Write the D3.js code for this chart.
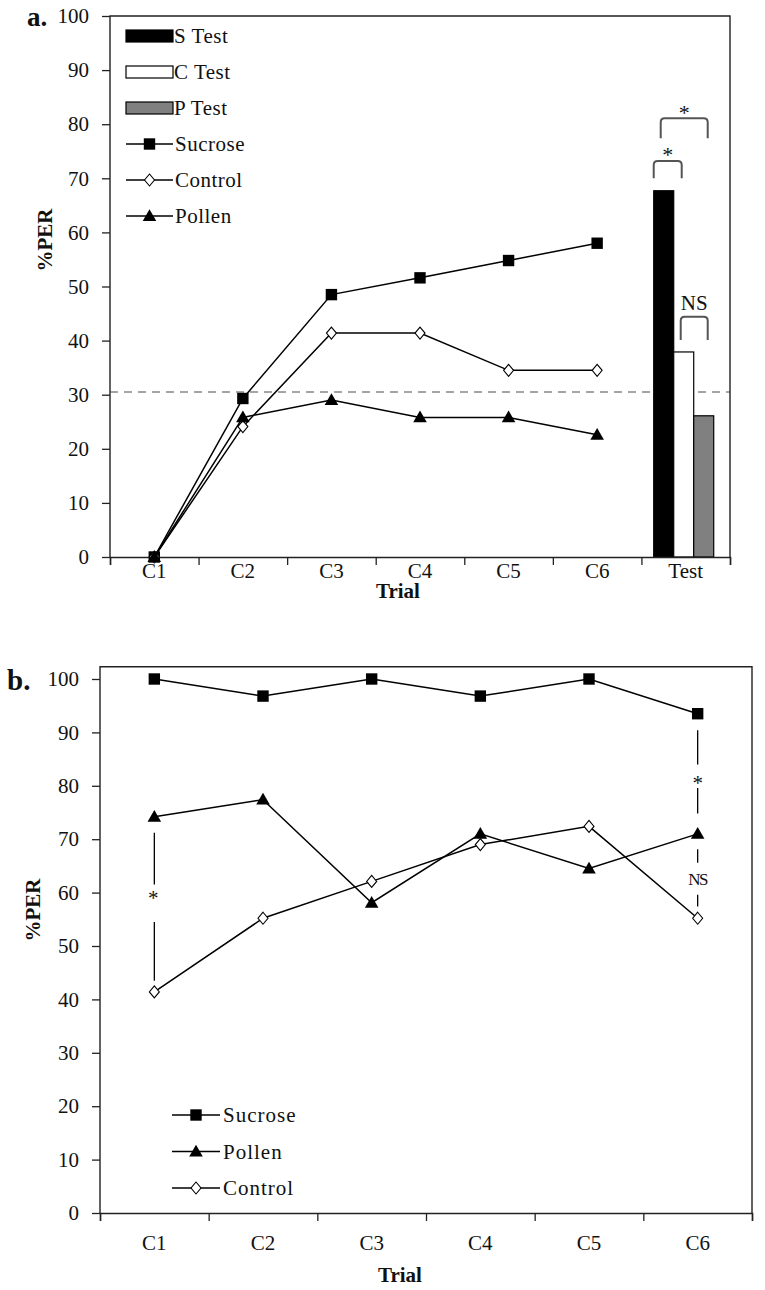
<!DOCTYPE html>
<html>
<head>
<meta charset="utf-8">
<script src="https://cdn.jsdelivr.net/npm/d3@7"></script>
<style>
  html, body { margin: 0; padding: 0; background: #fff; }
  svg { display: block; }
  text { font-family: "Liberation Serif", "Times New Roman", serif; fill: #111; }
</style>
</head>
<body>
<svg id="chart" width="765" height="1290"></svg>
<script>
// ---------- DATA ----------
const trialsA = ["C1", "C2", "C3", "C4", "C5", "C6", "Test"];
const trials = ["C1", "C2", "C3", "C4", "C5", "C6"];
const yTicks = [0, 10, 20, 30, 40, 50, 60, 70, 80, 90, 100];

// Panel a: conditioning curves
const sucroseA = [0, 29.3, 48.5, 51.6, 54.8, 58.0];
const controlA = [0, 24.1, 41.4, 41.4, 34.5, 34.5];
const pollenA  = [0, 25.8, 29.0, 25.8, 25.8, 22.6];
// Panel a: test bars
const testLabels = ["S Test", "C Test", "P Test"];
const testValues = [67.7, 37.9, 26.1];
const baselineA = 30.5;

// Panel b
const sucroseB = [100, 96.8, 100, 96.8, 100, 93.5];
const pollenB  = [74.2, 77.4, 58.1, 71.0, 64.5, 71.0];
const controlB = [41.4, 55.2, 62.1, 69.0, 72.4, 55.2];

const svg = d3.select("#chart");
const serif = '"Liberation Serif", "Times New Roman", serif';
const FS = 21;

// ---------- marker helpers ----------
function marker(g, type, x, y) {
  if (type === "square") {
    g.append("path").attr("d", d3.symbol(d3.symbolSquare, 130)())
      .attr("transform", `translate(${x},${y})`).attr("fill", "#000");
  } else if (type === "triangle") {
    g.append("path").attr("d", d3.symbol(d3.symbolTriangle, 80)())
      .attr("transform", `translate(${x},${y + 1})`).attr("fill", "#000");
  } else {
    g.append("path").attr("d", "M0,-6L5,0L0,6L-5,0Z")
      .attr("transform", `translate(${x},${y})`)
      .attr("fill", "#fff").attr("stroke", "#000").attr("stroke-width", 1.1);
  }
}

function series(g, x, y, cats, vals, type) {
  const line = d3.line().x((d, i) => x(cats[i]) + x.bandwidth() / 2).y(d => y(d));
  g.append("path").datum(vals).attr("d", line)
    .attr("fill", "none").attr("stroke", "#000").attr("stroke-width", 1.5);
  vals.forEach((v, i) => marker(g, type, x(cats[i]) + x.bandwidth() / 2, y(v)));
}

function drawAxes(g, x, y, cats, yTop, xl, xr, y0, tickPad) {
  const ya = g.append("g").attr("transform", `translate(${xl},0)`)
    .call(d3.axisLeft(y).tickValues(yTicks).tickSize(8).tickPadding(13).tickFormat(d3.format("d")));
  ya.select(".domain").remove();
  ya.selectAll("line").attr("stroke", "#222").attr("stroke-width", 1.3);
  ya.selectAll("text").attr("font-family", serif).attr("font-size", FS).attr("fill", "#222");
  g.append("path").attr("d", `M${xl},${y0}V${yTop}H${xr}V${y0}`)
    .attr("fill", "none").attr("stroke", "#222").attr("stroke-width", 1.4);
  const xb = d3.scaleLinear().domain([0, cats.length]).range([xl, xr]);
  const xa = g.append("g").attr("transform", `translate(0,${y0})`)
    .call(d3.axisBottom(xb).tickValues(d3.range(cats.length + 1)).tickSize(8).tickFormat(""));
  xa.select(".domain").attr("stroke", "#222").attr("stroke-width", 1.5);
  xa.selectAll("line").attr("stroke", "#222").attr("stroke-width", 1.3);
  const xlab = g.append("g").attr("transform", `translate(0,${y0})`)
    .call(d3.axisBottom(x).tickSize(0).tickPadding(tickPad));
  xlab.select(".domain").remove();
  xlab.selectAll("text").attr("font-family", serif).attr("font-size", FS).attr("fill", "#222");
}

// ================= PANEL A =================
(function () {
  const g = svg.append("g");
  const xl = 110, xr = 730, yT = 16, y0 = 557;
  const x = d3.scaleBand().domain(trialsA).range([xl, xr]).padding(0);
  const y = d3.scaleLinear().domain([0, 100]).range([y0, yT]);

  g.append("line").attr("x1", xl).attr("x2", xr).attr("y1", y(baselineA)).attr("y2", y(baselineA))
    .attr("stroke", "#888").attr("stroke-width", 1.3).attr("stroke-dasharray", "8,6");

  const bw = 20;
  const groupW = bw * testLabels.length;
  const gx = x("Test") + x.bandwidth() / 2 - groupW / 2 - 2;
  const xs = d3.scaleLinear().domain([0, testLabels.length]).range([gx, gx + groupW]);
  const fills = ["#000", "#fff", "#808080"];
  testValues.forEach((v, i) => {
    g.append("rect").attr("x", xs(i)).attr("y", y(v)).attr("width", bw).attr("height", y(0) - y(v))
      .attr("fill", fills[i]).attr("stroke", "#000").attr("stroke-width", 1.2);
  });

  const brackets = [
    { a: 0, b: 1.4, top: 73.2, leg: 70.0, label: "*", ly: 75.2 },
    { a: 0.35, b: 2.7, top: 81.1, leg: 77.4, label: "*", ly: 83.1 },
    { a: 1.35, b: 2.7, top: 44.4, leg: 40.1, label: "NS", ly: 45.6 }
  ];
  brackets.forEach(br => {
    const x1 = xs(br.a), x2 = xs(br.b), yt = y(br.top), yl = y(br.leg), r = 4;
    g.append("path")
      .attr("d", `M${x1},${yl}V${yt + r}Q${x1},${yt} ${x1 + r},${yt}H${x2 - r}Q${x2},${yt} ${x2},${yt + r}V${yl}`)
      .attr("fill", "none").attr("stroke", "#555").attr("stroke-width", 2);
    g.append("text").attr("x", (x1 + x2) / 2).attr("y", y(br.ly))
      .attr("text-anchor", "middle").attr("font-size", br.label === "NS" ? 21 : 22)
      .attr("dy", br.label === "NS" ? "0em" : "0.55em")
      .text(br.label);
  });

  drawAxes(g, x, y, trialsA, yT, xl, xr, y0, 6);

  series(g, x, y, trials, sucroseA, "square");
  series(g, x, y, trials, controlA, "diamond");
  series(g, x, y, trials, pollenA, "triangle");

  const leg = g.append("g");
  const lx0 = 126, lx1 = 173, rowH = 36, ly0 = 36;
  testLabels.forEach((t, i) => {
    const yy = ly0 + i * rowH;
    leg.append("rect").attr("x", lx0).attr("y", yy - 6).attr("width", lx1 - lx0).attr("height", 12)
      .attr("fill", fills[i]).attr("stroke", "#000").attr("stroke-width", 1.2);
    leg.append("text").attr("x", lx1 + 1).attr("y", yy).attr("dy", "0.35em").attr("font-size", FS)
      .attr("letter-spacing", "0.5").text(t);
  });
  const lineLeg = [["Sucrose", "square"], ["Control", "diamond"], ["Pollen", "triangle"]];
  lineLeg.forEach((d, i) => {
    const yy = ly0 + (i + 3) * rowH;
    leg.append("line").attr("x1", lx0).attr("x2", lx1).attr("y1", yy).attr("y2", yy)
      .attr("stroke", "#000").attr("stroke-width", 1.4);
    marker(leg, d[1], (lx0 + lx1) / 2, yy);
    leg.append("text").attr("x", lx1 + 2).attr("y", yy).attr("dy", "0.35em").attr("font-size", FS)
      .attr("letter-spacing", "0.5").text(d[0]);
  });

  g.append("text").attr("x", 27).attr("y", 26).attr("font-size", 27).attr("font-weight", "bold").text("a.");
  g.append("text").attr("transform", "translate(52,240) rotate(-90)").attr("text-anchor", "middle")
    .attr("font-size", 21).attr("font-weight", "bold").text("%PER");
  g.append("text").attr("x", 398).attr("y", 598).attr("text-anchor", "middle")
    .attr("font-size", 21).attr("font-weight", "bold").text("Trial");
})();

// ================= PANEL B =================
(function () {
  const g = svg.append("g");
  const xl = 100, xr = 752, y0 = 1213, y100 = 679;
  const x = d3.scaleBand().domain(trials).range([xl, xr]).padding(0);
  const y = d3.scaleLinear().domain([0, 100]).range([y0, y100]);
  const yT = y(102.3);

  drawAxes(g, x, y, trials, yT, xl, xr, y0, 22);

  series(g, x, y, trials, sucroseB, "square");
  series(g, x, y, trials, pollenB, "triangle");
  series(g, x, y, trials, controlB, "diamond");

  const cx = i => x(trials[i]) + x.bandwidth() / 2;
  const vline = (xx, a, b) => g.append("line").attr("x1", xx).attr("x2", xx)
    .attr("y1", y(a)).attr("y2", y(b)).attr("stroke", "#000").attr("stroke-width", 1.3);
  vline(cx(0), 71.2, 61.5);
  g.append("text").attr("x", cx(0) - 1).attr("y", y(60)).attr("dy", "0.6em").attr("text-anchor", "middle")
    .attr("font-size", 21).text("*");
  vline(cx(0), 54.5, 43.5);
  vline(cx(5), 90.4, 84.0);
  g.append("text").attr("x", cx(5)).attr("y", y(81.6)).attr("dy", "0.6em").attr("text-anchor", "middle")
    .attr("font-size", 21).text("*");
  vline(cx(5), 79.6, 74.8);
  vline(cx(5), 68.1, 65.6);
  g.append("text").attr("x", cx(5)).attr("y", y(62.5)).attr("dy", "0.35em").attr("text-anchor", "middle")
    .attr("font-size", 17).attr("letter-spacing", "-1.5").text("NS");
  vline(cx(5), 59.6, 57.4);

  const leg = g.append("g");
  const lx0 = 172, lx1 = 220, rowH = 36.5, ly0 = 1115;
  [["Sucrose", "square"], ["Pollen", "triangle"], ["Control", "diamond"]].forEach((d, i) => {
    const yy = ly0 + i * rowH;
    leg.append("line").attr("x1", lx0).attr("x2", lx1).attr("y1", yy).attr("y2", yy)
      .attr("stroke", "#000").attr("stroke-width", 1.4);
    marker(leg, d[1], (lx0 + lx1) / 2, yy);
    leg.append("text").attr("x", lx1 + 3).attr("y", yy).attr("dy", "0.35em").attr("font-size", FS)
      .attr("letter-spacing", "1").text(d[0]);
  });

  g.append("text").attr("x", 7).attr("y", 690).attr("font-size", 29).attr("font-weight", "bold").text("b.");
  g.append("text").attr("transform", "translate(40,910) rotate(-90)").attr("text-anchor", "middle")
    .attr("font-size", 21).attr("font-weight", "bold").text("%PER");
  g.append("text").attr("x", 400).attr("y", 1282).attr("text-anchor", "middle")
    .attr("font-size", 21).attr("font-weight", "bold").text("Trial");
})();
</script>
</body>
</html>
